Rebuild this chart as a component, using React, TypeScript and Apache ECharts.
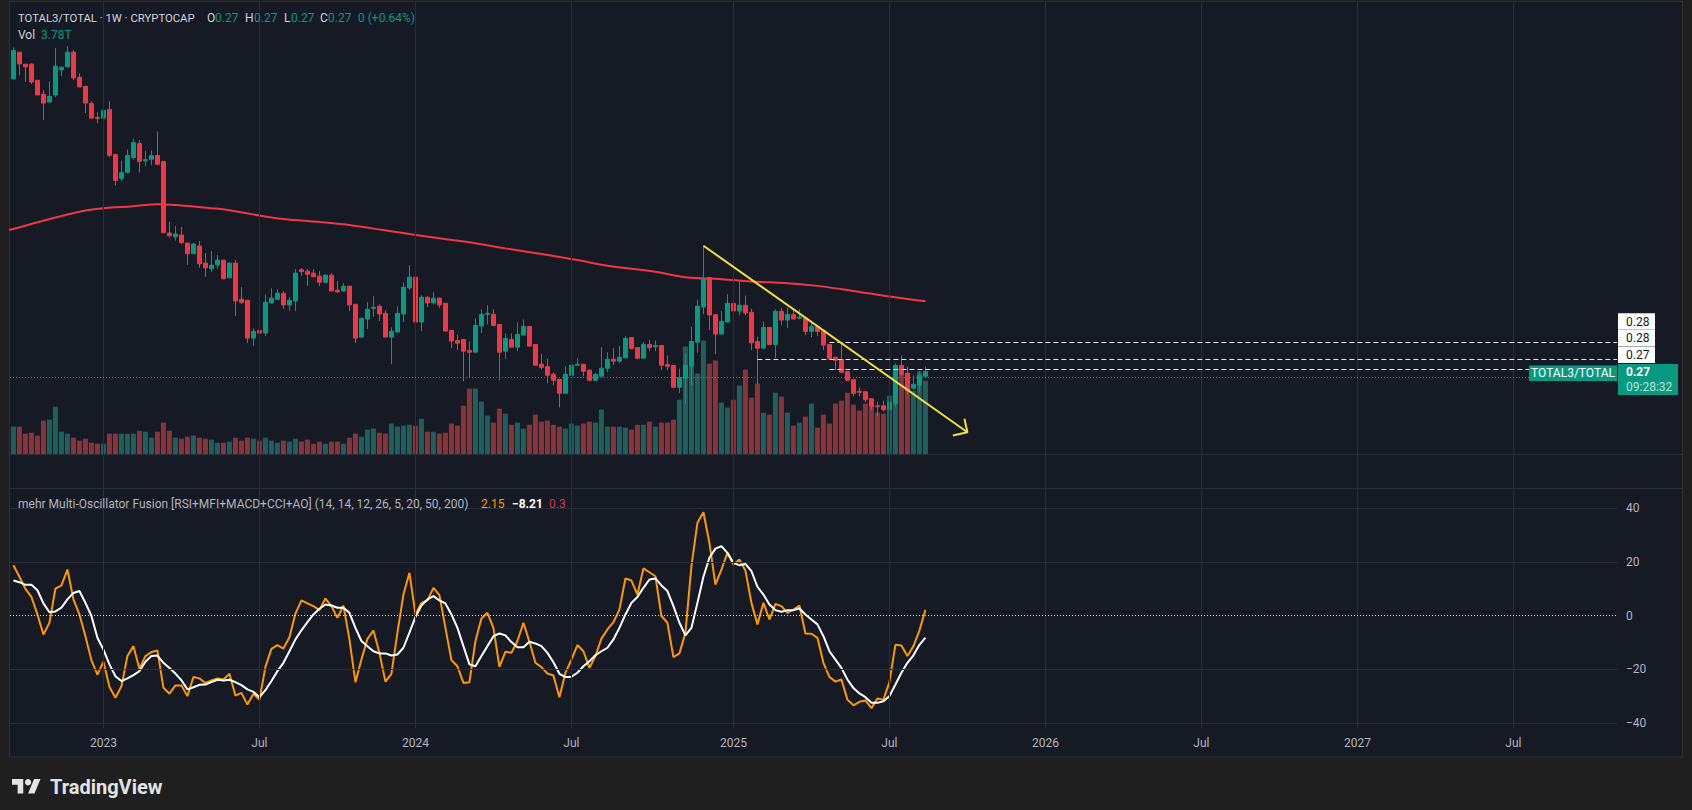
import React, { useEffect, useRef } from "react";
import * as echarts from "echarts";

// ---------------- data ----------------
const FIRST_BAR = "2022-09-19"; // weekly bars, Monday open
const opens = [0.3590,0.3670,0.3634,0.3634,0.3586,0.3544,0.3521,0.3542,0.3617,0.3626,
0.3670,0.3595,0.3568,0.3517,0.3475,0.3473,0.3499,0.3364,0.3293,0.3311,
0.3355,0.3397,0.3346,0.3350,0.3361,0.3343,0.3130,0.3119,0.3124,0.3100,
0.3068,0.3091,0.3040,0.3023,0.3035,0.3049,0.2996,0.3040,0.2932,0.2929,
0.2816,0.2839,0.2831,0.2921,0.2932,0.2950,0.2915,0.2927,0.3020,0.3016,
0.3010,0.3001,0.2983,0.3004,0.2959,0.2957,0.2971,0.2917,0.2819,0.2873,
0.2905,0.2911,0.2890,0.2819,0.2834,0.2888,0.2966,0.2998,0.2864,0.2938,
0.2921,0.2935,0.2920,0.2839,0.2809,0.2812,0.2779,0.2774,0.2852,0.2887,
0.2887,0.2857,0.2777,0.2812,0.2789,0.2825,0.2851,0.2797,0.2738,0.2731,
0.2708,0.2693,0.2651,0.2705,0.2735,0.2738,0.2720,0.2690,0.2702,0.2726,
0.2753,0.2747,0.2757,0.2818,0.2788,0.2756,0.2797,0.2791,0.2794,0.2737,
0.2734,0.2669,0.2696,0.2732,0.2804,0.2909,0.2997,0.2886,0.2828,0.2864,
0.2920,0.2897,0.2914,0.2893,0.2806,0.2786,0.2848,0.2797,0.2896,0.2870,
0.2886,0.2875,0.2876,0.2836,0.2851,0.2839,0.2797,0.2759,0.2752,0.2716,
0.2692,0.2657,0.2656,0.2635,0.2614,0.2614,0.2602,0.2620,0.2734,0.2711,
0.2666,0.2675,0.2702];
const closes = [0.3675,0.3635,0.3626,0.3581,0.3542,0.3518,0.3538,0.3628,0.3625,0.3670,
0.3593,0.3566,0.3518,0.3473,0.3472,0.3496,0.3362,0.3287,0.3310,0.3361,
0.3400,0.3344,0.3349,0.3361,0.3335,0.3131,0.3122,0.3127,0.3101,0.3068,
0.3097,0.3038,0.3026,0.3034,0.3049,0.2993,0.3040,0.2927,0.2923,0.2816,
0.2836,0.2831,0.2923,0.2935,0.2950,0.2915,0.2929,0.3010,0.3015,0.3007,
0.2999,0.2983,0.3004,0.2957,0.2954,0.2971,0.2915,0.2816,0.2875,0.2902,
0.2908,0.2888,0.2819,0.2836,0.2890,0.2968,0.2998,0.2864,0.2938,0.2921,
0.2935,0.2915,0.2837,0.2807,0.2801,0.2777,0.2774,0.2854,0.2887,0.2890,
0.2854,0.2774,0.2815,0.2789,0.2827,0.2851,0.2792,0.2735,0.2729,0.2705,
0.2690,0.2651,0.2708,0.2735,0.2738,0.2717,0.2690,0.2708,0.2726,0.2753,
0.2747,0.2759,0.2815,0.2785,0.2756,0.2797,0.2788,0.2794,0.2735,0.2732,
0.2669,0.2698,0.2734,0.2806,0.2911,0.2993,0.2885,0.2828,0.2866,0.2920,
0.2897,0.2914,0.2891,0.2802,0.2786,0.2848,0.2797,0.2896,0.2870,0.2887,
0.2873,0.2879,0.2836,0.2851,0.2836,0.2795,0.2755,0.2750,0.2714,0.2690,
0.2651,0.2654,0.2632,0.2612,0.2611,0.2602,0.2624,0.2734,0.2708,0.2659,
0.2678,0.2705,0.2716];
const lows = [0.3590,0.3600,0.3581,0.3575,0.3542,0.3467,0.3521,0.3536,0.3599,0.3626,
0.3587,0.3566,0.3488,0.3473,0.3458,0.3455,0.3356,0.3272,0.3284,0.3311,
0.3349,0.3311,0.3330,0.3332,0.3335,0.3131,0.3116,0.3107,0.3098,0.3035,
0.3068,0.3026,0.2999,0.3014,0.3023,0.2993,0.2996,0.2882,0.2918,0.2801,
0.2792,0.2813,0.2822,0.2921,0.2932,0.2903,0.2897,0.2897,0.3002,0.2972,
0.2999,0.2972,0.2979,0.2957,0.2951,0.2954,0.2897,0.2801,0.2819,0.2843,
0.2879,0.2867,0.2819,0.2738,0.2834,0.2864,0.2960,0.2861,0.2837,0.2909,
0.2921,0.2906,0.2837,0.2786,0.2780,0.2687,0.2696,0.2774,0.2831,0.2857,
0.2851,0.2690,0.2753,0.2789,0.2777,0.2825,0.2792,0.2735,0.2723,0.2681,
0.2675,0.2609,0.2651,0.2699,0.2735,0.2702,0.2690,0.2687,0.2702,0.2714,
0.2735,0.2741,0.2756,0.2782,0.2753,0.2756,0.2777,0.2777,0.2720,0.2720,
0.2666,0.2652,0.2618,0.2675,0.2772,0.2887,0.2840,0.2768,0.2828,0.2864,
0.2879,0.2884,0.2885,0.2780,0.2678,0.2786,0.2794,0.2756,0.2854,0.2846,
0.2873,0.2872,0.2825,0.2819,0.2822,0.2780,0.2752,0.2720,0.2712,0.2687,
0.2642,0.2642,0.2624,0.2600,0.2582,0.2597,0.2597,0.2612,0.2705,0.2647,
0.2663,0.2654,0.2696];
const highs = [0.3684,0.3670,0.3634,0.3637,0.3586,0.3557,0.3583,0.3682,0.3628,0.3688,
0.3676,0.3607,0.3568,0.3523,0.3490,0.3504,0.3523,0.3364,0.3346,0.3379,
0.3412,0.3408,0.3376,0.3376,0.3433,0.3343,0.3163,0.3151,0.3148,0.3100,
0.3100,0.3106,0.3070,0.3076,0.3064,0.3049,0.3043,0.3049,0.2968,0.2929,
0.2845,0.2843,0.2947,0.2965,0.2962,0.2956,0.2939,0.3022,0.3025,0.3022,
0.3022,0.3016,0.3007,0.3010,0.2986,0.2980,0.2971,0.2917,0.2878,0.2923,
0.2941,0.2917,0.2899,0.2848,0.2911,0.2983,0.3034,0.2998,0.2944,0.2941,
0.2953,0.2938,0.2920,0.2839,0.2827,0.2812,0.2806,0.2875,0.2902,0.2914,
0.2902,0.2857,0.2830,0.2830,0.2863,0.2872,0.2851,0.2797,0.2768,0.2755,
0.2714,0.2693,0.2732,0.2753,0.2756,0.2738,0.2723,0.2711,0.2789,0.2774,
0.2786,0.2792,0.2822,0.2818,0.2788,0.2804,0.2811,0.2809,0.2794,0.2764,
0.2734,0.2725,0.2770,0.2850,0.2931,0.3092,0.2997,0.2886,0.2897,0.2947,
0.2930,0.2989,0.2943,0.2904,0.2820,0.2866,0.2848,0.2902,0.2907,0.2907,
0.2904,0.2902,0.2876,0.2866,0.2851,0.2839,0.2797,0.2759,0.2803,0.2716,
0.2692,0.2669,0.2656,0.2635,0.2626,0.2629,0.2645,0.2740,0.2764,0.2731,
0.2705,0.2717,0.2731];
// volume in T
const volumes = [1.41,1.41,1.05,1.10,0.95,1.72,1.77,2.44,1.15,1.05,
0.84,0.69,0.79,0.58,0.53,0.53,1.05,1.05,1.05,1.05,
1.05,1.20,1.15,0.84,1.15,1.62,1.20,0.84,0.79,0.89,
0.95,0.84,0.79,0.74,0.58,0.58,0.64,0.84,0.69,0.84,
0.79,0.69,0.84,0.69,0.58,0.69,0.64,0.79,0.64,0.74,
0.53,0.64,0.53,0.64,0.64,0.53,0.84,1.05,0.89,1.26,
1.31,1.10,1.05,1.57,1.41,1.46,1.51,1.46,1.82,1.15,
1.15,1.05,1.10,1.57,1.46,2.49,3.37,3.37,2.70,1.98,
1.62,2.34,2.08,1.51,1.62,1.31,1.51,2.03,1.67,1.72,
1.51,1.41,1.31,1.57,1.46,1.57,1.67,1.62,2.29,1.41,
1.41,1.41,1.36,1.26,1.51,1.51,1.67,1.41,1.62,1.62,
1.77,2.80,5.54,5.80,4.15,5.85,4.66,4.82,2.65,2.39,
2.80,3.53,4.35,2.91,3.63,2.13,2.03,3.16,2.96,2.13,
1.46,1.62,1.93,2.60,1.36,2.03,1.57,2.60,2.75,3.16,
2.55,2.24,2.60,2.44,2.13,2.08,3.01,4.56,4.09,3.58,
3.27,4.25,3.78];
// moving average (sampled at bar numbers)
const maBars = [0,1,4,10,13,16,21,25,29,34,37,42,46,52,56,61,67,72,78,83,89,95,100,104,108,113,119,124,130,135,141,147,153];
const maValues = [0.3139,0.3142,0.3157,0.3185,0.3197,0.3204,0.3210,0.3216,0.3212,0.3204,0.3198,0.3182,0.3172,0.3163,0.3156,0.3143,0.3127,0.3114,0.3099,0.3084,0.3067,0.3049,0.3032,0.3023,0.3014,0.2998,0.2992,0.2985,0.2980,0.2972,0.2957,0.2940,0.2926];
// oscillator
const fastOsc = [18.7,14.4,9.9,6.9,0.4,-7.1,-2.7,10.0,11.2,17.1,
6.0,0.4,-7.7,-16.7,-22.0,-17.2,-26.5,-30.6,-26.3,-15.1,
-11.4,-19.8,-15.1,-13.6,-13.0,-26.9,-29.1,-26.0,-26.0,-30.0,
-22.9,-23.4,-25.1,-24.2,-23.4,-23.8,-21.7,-29.8,-28.8,-33.1,
-29.1,-31.4,-19.1,-12.4,-11.0,-12.3,-8.1,0.7,5.6,4.5,
3.5,2.0,6.3,3.5,-0.9,3.7,-8.9,-24.8,-16.4,-8.7,
-5.6,-13.9,-24.6,-21.7,-6.4,7.8,15.9,0.4,4.7,5.6,
10.3,7.6,-4.6,-16.6,-18.9,-25.1,-24.8,-9.5,-1.1,1.0,
-4.6,-19.1,-13.5,-13.9,-9.5,-2.7,-9.8,-17.6,-19.2,-21.6,
-22.3,-30.4,-21.3,-16.4,-11.0,-13.3,-19.5,-15.1,-8.6,-5.2,
-2.5,2.2,13.8,13.0,7.8,17.5,16.1,14.6,-0.2,-2.7,
-15.5,-14.1,-6.4,18.4,34.5,38.4,27.0,11.5,17.1,23.3,
19.0,20.8,16.7,4.7,-3.3,4.7,-1.5,4.3,3.5,1.0,
2.2,3.7,-6.7,-6.8,-8.3,-17.6,-22.9,-24.6,-23.8,-31.3,
-33.4,-32.1,-31.6,-34.5,-30.9,-31.3,-24.8,-10.9,-11.2,-15.1,
-11.4,-5.6,2.15];
const slowOsc = [13.0,12.4,11.4,11.4,9.4,4.5,1.2,1.5,2.9,6.0,
8.4,9.1,4.7,-0.2,-8.3,-12.7,-18.2,-22.6,-24.4,-23.4,
-22.2,-20.7,-17.2,-15.1,-14.9,-17.6,-19.5,-21.6,-24.1,-27.5,
-26.7,-25.8,-25.7,-24.8,-23.9,-24.2,-23.9,-24.8,-25.9,-27.5,
-28.4,-30.4,-27.8,-24.4,-20.7,-17.6,-13.3,-8.9,-5.5,-2.5,
0.4,2.5,4.1,3.7,2.9,2.9,1.0,-4.6,-9.5,-11.4,
-13.3,-14.1,-14.1,-14.9,-14.5,-12.0,-6.4,-0.6,3.7,6.0,
7.2,5.6,4.5,0.4,-4.6,-11.4,-18.2,-18.9,-15.1,-11.4,
-7.7,-6.7,-7.4,-9.9,-11.8,-11.8,-9.8,-10.4,-11.4,-13.9,
-17.4,-21.7,-22.9,-22.8,-21.3,-18.9,-17.0,-14.8,-13.3,-12.0,
-8.9,-4.6,0.4,4.7,6.9,10.3,13.4,13.8,11.2,9.1,
3.5,-2.7,-7.4,-4.6,4.7,14.4,21.5,24.9,25.8,23.3,
19.6,18.7,19.2,16.5,10.7,7.8,4.1,2.0,1.4,2.0,
2.0,2.6,0.4,-1.5,-3.3,-7.7,-13.3,-16.4,-19.5,-23.8,
-27.0,-29.0,-30.4,-32.5,-32.5,-31.9,-30.0,-25.7,-21.3,-17.6,
-14.8,-10.9,-8.21];
const oscExtra = "0.3";
// time axis labels
const timeLabelDates = ["2023-01-02","2023-07-03","2024-01-01","2024-07-01","2025-01-06","2025-07-07","2026-01-05","2026-07-06","2027-01-04","2027-07-05"];
const timeLabelTexts = ["2023","Jul","2024","Jul","2025","Jul","2026","Jul","2027","Jul"];
const oscLevels = [-40, -20, 20, 40];
// horizontal price rays
const priceLines = [0.2803, 0.2754, 0.2724];
const priceLineStartBar = [137, 125, 137];
// trend line and arrow head
const trendDates = ["2024-12-02", "2025-10-06"];
const trendPrices = [0.3092, 0.2535];
const arrowDates = ["2025-10-02T12:00:00", "2025-10-06", "2025-09-19"];
const arrowPrices = [0.2575, 0.2535, 0.2525];
const changeText = "0 (+0.64%)";
const countdown = "09:28:32";
const symbolText = "TOTAL3/TOTAL";

// ---------------- helpers ----------------
const DAY = 86400000;
const WEEK = 7 * DAY;
const utc = (s: string) => Date.parse(s.length <= 10 ? s + "T00:00:00Z" : s + "Z");
const firstTs = utc(FIRST_BAR);
const barTime = (n: number) => firstTs + (n - 1) * WEEK;
const AXIS_MIN = utc("2022-09-15");
const GRID_LEFT = 10;
const GRID_RIGHT = 75;
const GRID_W = 1692 - GRID_LEFT - GRID_RIGHT;
const AXIS_MAX = AXIS_MIN + (GRID_W * 7) / 6 * DAY;

const UP = "#089981";
const DOWN = "#f23645";
const FONT = 'Roboto, "Noto Sans", sans-serif';
const minus = (s: string) => s.replace("-", "\u2212");

try {
  echarts.graphic.registerShape(
    "tvlogo",
    echarts.graphic.extendPath("M14 22H7V11H0V4h14v18zM28 22h-8l7.5-18h8L28 22z", {})
  );
} catch (e) {}

function txt(x: number, y: number, text: string, fill: string, size = 12, weight: any = "normal", align = "left") {
  return {
    type: "text",
    x,
    y,
    z: 100,
    silent: true,
    style: {
      text,
      fill,
      fontSize: size,
      fontFamily: FONT,
      fontWeight: weight,
      align,
      verticalAlign: "middle",
      textAlign: align,
      textVerticalAlign: "middle",
    },
  };
}

export default function App() {
  const ref = useRef<HTMLDivElement>(null);

  useEffect(() => {
    if (!ref.current) return;
    const chart = echarts.init(ref.current, null, { renderer: "svg" });
    const n = opens.length;
    const last = n - 1;
    const labelTs = timeLabelDates.map(utc);

    const candleData = opens.map((o, i) => [barTime(i + 1), o, closes[i], lows[i], highs[i]]);
    const volData = volumes.map((v, i) => ({
      value: [barTime(i + 1), v],
      itemStyle: { color: closes[i] >= opens[i] ? "#1d605c" : "#893439" },
    }));
    const maData = maBars.map((b, i) => [barTime(b), maValues[i]]);
    const fastData = fastOsc.map((v, i) => [barTime(i + 1), v]);
    const slowData = slowOsc.map((v, i) => [barTime(i + 1), v]);
    const trendData = trendDates.map((d, i) => [utc(d), trendPrices[i]]);
    const arrowData = arrowDates.map((d, i) => [utc(d), arrowPrices[i]]);

    const hiddenX = (gi: number) => ({
      type: "value",
      gridIndex: gi,
      min: AXIS_MIN,
      max: AXIS_MAX,
      show: false,
    });

    const graphic: any[] = [
      {
        type: "rect",
        z: -10,
        silent: true,
        shape: { x: 9.5, y: 1.5, width: 1673, height: 755.5 },
        style: { fill: "#161a25", stroke: "#303030", lineWidth: 1 },
      },
      { type: "line", z: 5, silent: true, shape: { x1: 10, y1: 454.5, x2: 1683, y2: 454.5 }, style: { stroke: "#2a2e39", lineWidth: 1 } },
      { type: "line", z: 5, silent: true, shape: { x1: 10, y1: 488.5, x2: 1683, y2: 488.5 }, style: { stroke: "#2a2e39", lineWidth: 1 } },
      // header
      txt(18, 18, "TOTAL3/TOTAL \u00b7 1W \u00b7 CRYPTOCAP", "#d1d4dc", 11.3),
      txt(207, 18, "O", "#d1d4dc"),
      txt(215, 18, opens[last].toFixed(2), UP),
      txt(245, 18, "H", "#d1d4dc"),
      txt(254, 18, highs[last].toFixed(2), UP),
      txt(284, 18, "L", "#d1d4dc"),
      txt(291, 18, lows[last].toFixed(2), UP),
      txt(320, 18, "C", "#d1d4dc"),
      txt(328, 18, closes[last].toFixed(2), UP),
      txt(358, 18, changeText, UP),
      txt(18, 35, "Vol", "#d1d4dc"),
      txt(41, 35, volumes[last].toFixed(2) + "T", UP),
      // oscillator title
      txt(18, 504, "mehr Multi-Oscillator Fusion [RSI+MFI+MACD+CCI+AO] (14, 14, 12, 26, 5, 20, 50, 200)", "#b2b5be"),
      txt(481, 504, fastOsc[last].toFixed(2), "#ff9800"),
      txt(512, 504, minus(slowOsc[last].toFixed(2)), "#ffffff", 12, "bold"),
      txt(549, 504, oscExtra, "#d0394a"),
      // logo
      { type: "tvlogo", x: 12, y: 775.8, scaleX: 0.803, scaleY: 0.803, z: 100, silent: true, style: { fill: "#e3e3e3" } },
      { type: "circle", z: 100, silent: true, shape: { cx: 28.06, cy: 782.2, r: 3.2 }, style: { fill: "#e3e3e3" } },
      txt(50, 787, "TradingView", "#e3e3e3", 20, "bold"),
    ];

    priceLines.forEach((p, k) => {
      graphic.push({
        type: "rect",
        z: 90,
        silent: true,
        shape: { x: 1618, y: 313.3 + k * 16.7, width: 37, height: 16.4 },
        style: { fill: "#ffffff" },
      });
      graphic.push(txt(1626, 321.6 + k * 16.7, p.toFixed(2), "#131722", 12));
    });
    graphic.push({ type: "rect", z: 90, silent: true, shape: { x: 1618, y: 364, width: 60, height: 31 }, style: { fill: UP } });
    graphic.push(txt(1626, 372, closes[last].toFixed(2), "#ffffff", 12, "bold"));
    graphic.push(txt(1626, 387, countdown, "rgba(255,255,255,0.72)", 12));
    graphic.push({ type: "rect", z: 90, silent: true, shape: { x: 1529, y: 365.5, width: 88, height: 15.5 }, style: { fill: UP } });
    graphic.push(txt(1573, 373.2, symbolText, "#ffffff", 12, "normal", "center"));

    const option: any = {
      animation: false,
      backgroundColor: "#1f1f1f",
      graphic: { elements: graphic },
      grid: [
        { left: GRID_LEFT, right: GRID_RIGHT, top: 2, bottom: 82 },
        { left: GRID_LEFT, right: GRID_RIGHT, top: 10, height: 444 },
        { left: GRID_LEFT, right: GRID_RIGHT, top: 508, height: 215 },
      ],
      xAxis: [
        {
          type: "value",
          gridIndex: 0,
          min: AXIS_MIN,
          max: AXIS_MAX,
          axisLine: { show: false },
          axisTick: { show: false },
          splitLine: { show: false },
          axisLabel: {
            customValues: labelTs,
            margin: 9,
            color: "#b2b5be",
            fontSize: 12,
            fontFamily: FONT,
            showMinLabel: true,
            showMaxLabel: true,
            formatter: (v: number) => {
              let best = 0;
              labelTs.forEach((t, i) => {
                if (Math.abs(t - v) < Math.abs(labelTs[best] - v)) best = i;
              });
              return Math.abs(labelTs[best] - v) < 2 * DAY ? timeLabelTexts[best] : "";
            },
          },
        },
        hiddenX(1),
        hiddenX(2),
      ],
      yAxis: [
        { type: "value", gridIndex: 0, min: 0, max: 1, show: false },
        { type: "value", gridIndex: 1, min: 0.24699, max: 0.37959, show: false },
        { type: "value", gridIndex: 1, min: 0, max: 22.9, show: false },
        {
          type: "value",
          gridIndex: 2,
          position: "right",
          min: -40,
          max: 40,
          interval: 20,
          axisLine: { show: false },
          axisTick: { show: false },
          splitLine: { show: false },
          axisLabel: {
            margin: 9,
            align: "left",
            color: "#b2b5be",
            fontSize: 12,
            fontFamily: FONT,
            formatter: (v: number) => minus(String(v)),
          },
        },
      ],
      series: [
        {
          type: "line",
          xAxisIndex: 0,
          yAxisIndex: 0,
          data: [[AXIS_MIN, 0]],
          symbol: "none",
          lineStyle: { opacity: 0 },
          silent: true,
          z: 1,
          markLine: {
            silent: true,
            symbol: ["none", "none"],
            label: { show: false },
            lineStyle: { color: "#2a2e39", width: 1, type: "solid" },
            data: labelTs.map((t) => ({ xAxis: t })),
          },
        },
        {
          type: "bar",
          xAxisIndex: 1,
          yAxisIndex: 2,
          barWidth: 5,
          data: volData,
          silent: true,
          z: 2,
        },
        {
          type: "line",
          xAxisIndex: 1,
          yAxisIndex: 1,
          data: maData,
          symbol: "none",
          smooth: 0.4,
          lineStyle: { color: "#f23645", width: 2 },
          silent: true,
          z: 3,
        },
        {
          type: "candlestick",
          xAxisIndex: 1,
          yAxisIndex: 1,
          barWidth: 4,
          data: candleData,
          silent: true,
          z: 4,
          itemStyle: {
            color: UP,
            color0: DOWN,
            borderColor: UP,
            borderColor0: DOWN,
            borderWidth: 1,
          },
          markLine: {
            silent: true,
            symbol: ["none", "none"],
            label: { show: false },
            lineStyle: { color: "#e6e6e6", width: 1, type: [5, 3] },
            data: [
              { yAxis: closes[last], lineStyle: { color: UP, width: 1, type: [1, 2] } },
              ...priceLines.map((p, k) => [
                { coord: [barTime(priceLineStartBar[k]), p] },
                { coord: [AXIS_MAX, p] },
              ]),
            ],
          },
        },
        {
          type: "line",
          xAxisIndex: 1,
          yAxisIndex: 1,
          data: trendData,
          symbol: "none",
          lineStyle: { color: "#f0e03c", width: 2 },
          silent: true,
          z: 6,
        },
        {
          type: "line",
          xAxisIndex: 1,
          yAxisIndex: 1,
          data: arrowData,
          symbol: "none",
          lineStyle: { color: "#f0e03c", width: 2 },
          silent: true,
          z: 6,
        },
        {
          type: "line",
          xAxisIndex: 2,
          yAxisIndex: 3,
          data: [[AXIS_MIN, 0]],
          symbol: "none",
          lineStyle: { opacity: 0 },
          silent: true,
          z: 1,
          markLine: {
            silent: true,
            symbol: ["none", "none"],
            label: { show: false },
            lineStyle: { color: "#2a2e39", width: 1, type: "solid" },
            data: [
              ...oscLevels.map((v) => ({ yAxis: v })),
              { yAxis: 0, lineStyle: { color: "rgba(255,255,255,0.85)", width: 1, type: [1, 2] } },
            ],
          },
        },
        {
          type: "line",
          xAxisIndex: 2,
          yAxisIndex: 3,
          data: fastData,
          symbol: "none",
          lineStyle: { color: "#ff9800", width: 2 },
          silent: true,
          z: 3,
        },
        {
          type: "line",
          xAxisIndex: 2,
          yAxisIndex: 3,
          data: slowData,
          symbol: "none",
          lineStyle: { color: "#ffffff", width: 2 },
          silent: true,
          z: 4,
        },
      ],
    };

    chart.setOption(option);
    return () => chart.dispose();
  }, []);

  return (
    <div
      ref={ref}
      style={{ position: "fixed", left: 0, top: 0, width: 1692, height: 810 }}
    />
  );
}
